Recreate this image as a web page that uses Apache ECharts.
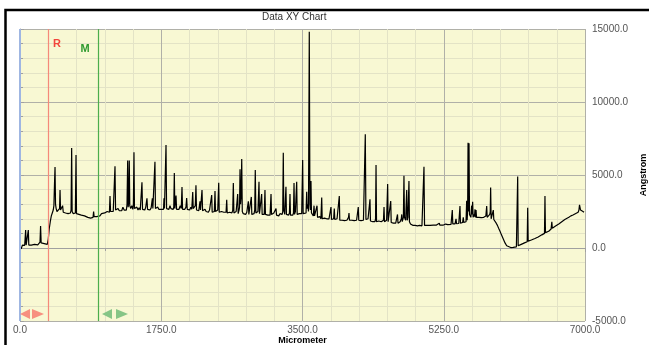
<!DOCTYPE html>
<html>
<head>
<meta charset="utf-8">
<script src="https://cdn.jsdelivr.net/npm/echarts@6/dist/echarts.min.js"></script>
<style>
  html, body { margin: 0; padding: 0; background: #fff; }
  #main { width: 649px; height: 345px; }
</style>
</head>
<body>
<div id="main"></div>
<script>
// profile trace [micrometer, angstrom] in pieces
var startPart = [[0,100],[15,-50],[30,200],[45,150],[58,180],[66,250],[70,1230],[76,200],[90,250],[97,300],[103,1230],[109,200],[125,280],[140,200],[160,320],[180,250],[200,300],[220,220],[240,350],[248,400],[255,1500],[262,350],[280,250],[300,300],[320,200],[338,250],[350,600],[362,1300],[375,1800],[388,2200],[400,2400],[412,2600],[420,2900],[428,4500],[434,5550],[440,3000],[448,2700],[458,2500],[470,2600],[482,2450],[490,2700],[496,3970],[502,2600],[515,2500],[528,2900],[536,2450],[550,2550],[565,2400],[580,2500],[595,2350],[610,2450],[625,2400],[633,2600],[640,6850],[646,2500],[660,2350],[675,2450],[686,2400],[694,6370],[700,2350],[715,2400],[730,2300],[745,2350],[760,2250],[780,2300],[800,2200],[820,2250],[840,2100],[860,2150],[875,2050],[890,2150],[905,2100],[912,2500],[918,2150],[935,2200],[950,2150],[970,2250]];

var plateauA = [[990,2200],[1010,2350],[1030,2250],[1050,2400],[1065,2350],[1080,2500],[1095,2400],[1108,2450],[1115,3560],[1122,2500],[1140,2600],[1155,2500],[1170,2600],[1177,5600],[1184,2600],[1200,2550],[1215,2700],[1230,2550],[1245,2650],[1260,2550],[1275,2800],[1290,2600],[1305,2700],[1318,2600],[1326,3000],[1334,6000],[1340,2800],[1348,3200],[1354,6000],[1360,2900],[1372,2700],[1385,2900],[1398,2650],[1405,3000],[1412,6560],[1418,2700],[1432,2650],[1448,2800],[1462,2600],[1476,2750],[1490,2600],[1504,2700],[1511,4500],[1518,2650],[1532,2700],[1546,2600],[1558,2800],[1566,2700],[1573,3400],[1580,2650],[1595,2700],[1610,2600],[1625,2750],[1634,2650],[1640,3400],[1646,2700],[1660,2650],[1666,2800],[1672,5900],[1678,2700],[1692,2650],[1706,2800],[1720,2650],[1735,2700],[1750,2650],[1765,2750],[1778,2650],[1784,3400],[1790,2700],[1802,2650],[1809,7050],[1816,2700],[1830,2800],[1845,2650],[1858,2900],[1870,2700],[1885,2800],[1898,2650],[1905,2800],[1912,5130],[1918,2700],[1926,2800],[1933,3600],[1940,2650],[1955,2750],[1970,2650],[1985,2900],[1998,2700],[2007,4180],[2014,2650],[2028,2750],[2042,2650],[2056,2800],[2065,3420],[2072,2650],[2088,2700],[2102,2600],[2116,2800],[2128,2650],[2140,3830],[2146,2700],[2160,2650],[2172,2900],[2180,4300],[2187,2600],[2200,2650],[2215,2550],[2230,3200],[2236,2600],[2248,2700],[2255,3970],[2262,2550],[2278,2500],[2292,2650],[2306,2500],[2320,2550],[2334,2450],[2348,2600],[2362,2500],[2375,3630],[2381,2450],[2396,2550],[2408,2500],[2416,3900],[2422,2500],[2436,2450],[2450,2600],[2462,4470],[2468,2450],[2482,2400],[2496,2500]];

var plateauB = [[2510,2400],[2525,2450],[2540,2350],[2553,2450],[2561,3300],[2567,2400],[2582,2350],[2597,2450],[2612,2350],[2626,2400],[2636,2600],[2643,4450],[2650,2400],[2664,2350],[2678,2500],[2690,2400],[2697,3700],[2703,2350],[2714,2600],[2720,2800],[2726,5400],[2732,3000],[2740,3600],[2747,6100],[2754,2500],[2766,2350],[2780,2400],[2795,2300],[2810,2450],[2822,2350],[2829,3200],[2835,2300],[2848,2400],[2858,2350],[2866,3500],[2872,2300],[2886,2400],[2900,2350],[2908,2600],[2915,5340],[2922,2400],[2936,2350],[2948,2500],[2955,2400],[2961,4540],[2967,2350],[2980,2450],[2988,2350],[2994,3700],[3000,2300],[3014,2400],[3026,2300],[3035,3970],[3041,2300],[3056,2400],[3070,2250],[3085,2350],[3098,2250],[3110,3700],[3116,2300],[3130,2250],[3145,2400],[3160,2300],[3172,2700],[3178,2250],[3192,2300],[3206,2200],[3220,2350],[3234,2250],[3248,2300],[3255,2500],[3262,6530],[3268,2600],[3280,2300],[3288,2400],[3295,4200],[3301,2300],[3315,2350],[3328,2250],[3338,2400],[3345,3700],[3351,2250],[3365,2300],[3380,2250],[3388,2400],[3395,4450],[3401,2300],[3412,2500],[3420,2400],[3428,4540],[3434,2300],[3448,2250],[3462,2350],[3476,2250],[3490,2350],[3496,2400],[3502,6030],[3508,2350],[3520,2250],[3532,2300],[3544,2400],[3552,3860],[3558,2700],[3566,3000],[3574,2500],[3584,14820],[3592,3000],[3598,2600],[3605,4590],[3611,2400],[3622,2300],[3634,2200],[3643,2900],[3649,2200],[3662,2150],[3673,2250],[3680,2900],[3686,2100],[3700,2050],[3714,2150],[3728,2000],[3738,3450],[3744,2000],[3758,1950],[3772,2050],[3786,1950],[3800,2000],[3814,1900],[3828,2000],[3842,1950],[3853,2800],[3859,1950],[3872,1900],[3886,2000],[3894,2700],[3900,1950],[3914,1900],[3928,2000],[3942,1900],[3950,2000],[3956,3560],[3962,1900],[3976,1950],[3990,1900]];

var plateauC = [[4005,1950],[4020,1880],[4035,1950],[4050,1900],[4062,2000],[4070,2100],[4076,2400],[4082,1900],[4096,1950],[4110,1900],[4125,2000],[4140,1880],[4155,1950],[4170,1900],[4184,2000],[4191,2800],[4197,1900],[4210,1950],[4225,1880],[4240,1950],[4255,1900],[4268,2000],[4278,7790],[4286,1950],[4300,1900],[4312,2000],[4322,1950],[4330,2100],[4336,3330],[4342,1850],[4356,1900],[4370,1800],[4385,1850],[4398,1800],[4405,2000],[4411,5680],[4417,1800],[4430,1750],[4445,1850],[4460,1750],[4475,1800],[4490,1750],[4503,1900],[4510,2800],[4516,1800],[4530,1750],[4542,1900],[4548,2000],[4555,4380],[4561,1800],[4575,1850],[4585,1900],[4593,3220],[4599,1750],[4612,1800],[4626,1700],[4640,1800],[4655,1700],[4668,1800],[4677,2300],[4683,1700],[4697,1750],[4710,1800],[4718,1900],[4724,2000],[4730,2300],[4736,1800],[4745,1900],[4750,2100],[4757,4950],[4763,2100],[4772,2200],[4778,1900],[4785,2000],[4791,3970],[4797,1900],[4806,2100],[4812,2000],[4819,4590],[4825,1800],[4838,1650],[4852,1600],[4866,1550],[4880,1600],[4895,1550],[4910,1600],[4925,1520],[4936,1600],[4943,1650],[4950,1550],[4965,1500],[4980,1520],[4994,1550],[5005,5570],[5012,1550],[5026,1500],[5040,1550],[5060,1520],[5080,1550],[5100,1530],[5120,1560],[5140,1540],[5160,1570],[5180,1550],[5195,1700],[5201,1560],[5220,1580],[5240,1560],[5260,1590],[5274,1640],[5280,1580],[5300,1600],[5320,1620],[5340,1610]];

var endPart = [[5350,1650],[5356,2600],[5362,1650],[5376,1680],[5390,1650],[5402,2000],[5408,1660],[5422,1700],[5436,1680],[5445,1750],[5451,2880],[5457,1700],[5470,1720],[5484,1750],[5492,2100],[5498,1750],[5512,1780],[5526,1800],[5534,3240],[5540,1900],[5546,2600],[5551,7210],[5557,2500],[5563,7170],[5569,2300],[5578,2400],[5586,2100],[5596,2900],[5601,2300],[5608,3170],[5614,2100],[5624,2300],[5631,2150],[5637,2650],[5643,2100],[5650,2600],[5656,2100],[5670,2050],[5685,2100],[5700,2030],[5715,2080],[5730,2050],[5745,2100],[5760,2050],[5772,2200],[5782,2880],[5788,2100],[5800,2050],[5812,2200],[5820,2300],[5826,2500],[5831,4150],[5837,2000],[5848,2100],[5856,2000],[5864,2600],[5870,1950],[5885,1850],[5900,1700],[5915,1550],[5930,1350],[5947,1150],[5965,900],[5985,650],[6009,350],[6030,150],[6050,50],[6080,30],[6110,40],[6133,60],[6150,80],[6160,100],[6166,4890],[6172,150],[6190,200],[6210,250],[6230,300],[6250,350],[6270,400],[6284,430],[6290,2760],[6296,470],[6315,500],[6335,550],[6356,600],[6380,650],[6400,700],[6420,750],[6442,820],[6465,900],[6485,950],[6498,1000],[6504,3560],[6510,1050],[6530,1100],[6550,1150],[6570,1250],[6580,1300],[6589,1800],[6595,1350],[6615,1450],[6635,1500],[6655,1600],[6675,1650],[6700,1750],[6725,1850],[6750,1950],[6773,2030],[6800,2100],[6825,2200],[6851,2260],[6880,2350],[6900,2400],[6915,2450],[6925,2600],[6932,2950],[6938,2850],[6945,2600],[6955,2700],[6965,2550],[6975,2500],[6988,2450]];

// cursors
var cursorNames = ['R', 'M'];
var cursorX = [350, 970];
var cursorLineColors = ['#f5897a', '#4cae4c'];
var cursorTextColors = ['#f2463c', '#2f9a2f'];
var cursorLabelX = [458, 805];
var cursorLabelY = [13950, 13650];
var handleX = [[62, 223], [1078, 1264]];
var handleY = -4520;

var xTicks = { min: 0, max: 7000, step: 1750 };
var yTicks = { min: -5000, max: 15000, step: 5000 };

var points = startPart.concat(plateauA, plateauB, plateauC, endPart);

var markLines = [{ xAxis: 0, lineStyle: { color: '#9fb6e2', width: 2, type: 'solid' } }];
var markPoints = [];
cursorNames.forEach(function (n, i) {
    markLines.push({ xAxis: cursorX[i], lineStyle: { color: cursorLineColors[i], width: 1.2, type: 'solid' } });
    markPoints.push({
        coord: [cursorLabelX[i], cursorLabelY[i]], symbol: 'rect', symbolSize: 1,
        itemStyle: { color: 'rgba(0,0,0,0)' },
        label: { show: true, position: 'inside', formatter: n, color: cursorTextColors[i],
                 fontWeight: 'bold', fontSize: 11, fontFamily: 'Liberation Sans' }
    });
    var handleColor = i === 0 ? '#f7907f' : '#86c586';
    markPoints.push({ coord: [handleX[i][0], handleY], symbol: 'triangle', symbolRotate: 90,
                      symbolSize: [10, 10], itemStyle: { color: handleColor }, label: { show: false } });
    markPoints.push({ coord: [handleX[i][1], handleY], symbol: 'triangle', symbolRotate: -90,
                      symbolSize: [10, 12], itemStyle: { color: handleColor }, label: { show: false } });
});

var myChart = echarts.init(document.getElementById('main'));

option = {
    backgroundColor: '#ffffff',
    animation: false,
    textStyle: { fontFamily: 'Liberation Sans' },
    title: {
        text: 'Data XY Chart',
        left: 262,
        top: 12,
        padding: 0,
        textStyle: { fontSize: 10, fontWeight: 'normal', color: '#333', fontFamily: 'Liberation Sans' }
    },
    graphic: [{
        type: 'rect',
        shape: { x: 5.5, y: 10, width: 700, height: 400 },
        style: { fill: 'none', stroke: '#000', lineWidth: 2.5 },
        silent: true
    }],
    grid: {
        left: 20, right: 64, top: 29, bottom: 24,
        containLabel: false,
        outerBoundsMode: 'none',
        show: true, backgroundColor: '#f8f8d3', borderWidth: 0
    },
    xAxis: {
        type: 'value',
        min: xTicks.min, max: xTicks.max, interval: xTicks.step,
        name: 'Micrometer',
        nameLocation: 'middle',
        nameGap: 15,
        nameMoveOverlap: false,
        nameTextStyle: { fontSize: 9, fontWeight: 'bold', color: '#000', verticalAlign: 'top' },
        axisLine: { show: true, lineStyle: { color: '#a0a0a0', width: 1 } },
        axisTick: { show: true, length: 4, lineStyle: { color: '#a0a0a0' } },
        minorTick: { show: true, splitNumber: 5, length: 3, lineStyle: { color: '#a0a0a0' } },
        splitLine: { show: true, lineStyle: { color: '#b0b0a8', width: 1 } },
        minorSplitLine: { show: true, lineStyle: { color: '#e3e3c6', width: 1 } },
        axisLabel: { fontSize: 10, color: '#555', margin: 4, formatter: function (v) { return v.toFixed(1); } }
    },
    yAxis: {
        type: 'value',
        position: 'right',
        min: yTicks.min, max: yTicks.max, interval: yTicks.step,
        name: 'Angstrom',
        nameLocation: 'middle',
        nameRotate: 90,
        nameGap: 53,
        nameTextStyle: { fontSize: 9, fontWeight: 'bold', color: '#000' },
        axisLine: { show: true, lineStyle: { color: '#a0a0a0', width: 1 } },
        axisTick: { show: true, length: 4, lineStyle: { color: '#a0a0a0' } },
        minorTick: { show: true, splitNumber: 5, length: 3, lineStyle: { color: '#a0a0a0' } },
        splitLine: { show: true, lineStyle: { color: '#b0b0a8', width: 1 } },
        minorSplitLine: { show: true, lineStyle: { color: '#e3e3c6', width: 1 } },
        axisLabel: { fontSize: 10, color: '#555', margin: 7, formatter: function (v) { return v.toFixed(1); } }
    },
    series: [{
        type: 'line',
        data: points,
        showSymbol: false,
        symbol: 'none',
        lineStyle: { color: '#000', width: 1.2 },
        markLine: { silent: true, symbol: 'none', label: { show: false }, data: markLines },
        markPoint: { silent: true, data: markPoints }
    }]
};

myChart.setOption(option);
</script>
</body>
</html>
